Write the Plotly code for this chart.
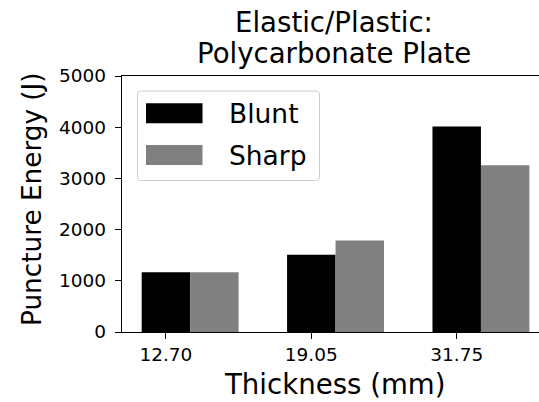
import plotly.graph_objects as go

# Data
thickness_labels = ["12.70", "19.05", "31.75"]
blunt_energy = [1165, 1510, 4015]
sharp_energy = [1165, 1785, 3255]
series_names = ["Blunt", "Sharp"]
series_colors = ["#000000", "#808080"]
y_ticks = [0, 1000, 2000, 3000, 4000, 5000]

W, H = 539, 402
L, R, T, B = 122, 0, 76, 70
PW, PH = W - L - R, H - T - B
FONT = "DejaVu Sans"
BIG = 27.6
LEG = 26.5
SMALL = 18.5


def px(xp):
    return (xp - L) / PW


def py(yp):
    return (H - B - yp) / PH


bw = 1 / 3
fig = go.Figure()
for name, vals, col, off in [
    (series_names[0], blunt_energy, series_colors[0], -bw / 2),
    (series_names[1], sharp_energy, series_colors[1], bw / 2),
]:
    fig.add_trace(go.Bar(x=thickness_labels, y=vals, name=name, width=bw, offset=off,
                         marker=dict(color=col, line=dict(width=0)), showlegend=False))

# Custom legend (matplotlib style)
lx0, lx1, ly0, ly1 = 137.5, 319.5, 91, 180.5
r = 3
path = (f"M {px(lx0 + r)} {py(ly0)} L {px(lx1 - r)} {py(ly0)} Q {px(lx1)} {py(ly0)} {px(lx1)} {py(ly0 + r)} "
        f"L {px(lx1)} {py(ly1 - r)} Q {px(lx1)} {py(ly1)} {px(lx1 - r)} {py(ly1)} "
        f"L {px(lx0 + r)} {py(ly1)} Q {px(lx0)} {py(ly1)} {px(lx0)} {py(ly1 - r)} "
        f"L {px(lx0)} {py(ly0 + r)} Q {px(lx0)} {py(ly0)} {px(lx0 + r)} {py(ly0)} Z")
shapes = [dict(type="path", xref="paper", yref="paper", path=path,
               fillcolor="rgba(255,255,255,0.8)", line=dict(color="#cccccc", width=1), layer="above")]
annotations = []
for i, (name, col) in enumerate(zip(series_names, series_colors)):
    yc = 113.3 + i * 41.7
    shapes.append(dict(type="rect", xref="paper", yref="paper",
                       x0=px(146), x1=px(202.5), y0=py(yc - 10), y1=py(yc + 10),
                       fillcolor=col, line=dict(width=0), layer="above"))
    annotations.append(dict(x=px(227), y=py(yc), xref="paper", yref="paper", text=name,
                            showarrow=False, xanchor="left", yanchor="middle",
                            font=dict(family=FONT, size=LEG, color="black")))

# Title (two centered lines)
annotations.append(dict(x=px(334), y=py(22.5), xref="paper", yref="paper", text="Elastic/Plastic:",
                        showarrow=False, xanchor="center", yanchor="middle",
                        font=dict(family=FONT, size=BIG, color="black")))
annotations.append(dict(x=px(334), y=py(53), xref="paper", yref="paper", text="Polycarbonate Plate",
                        showarrow=False, xanchor="center", yanchor="middle",
                        font=dict(family=FONT, size=BIG, color="black")))
# Axis titles
annotations.append(dict(x=px(334), y=py(384), xref="paper", yref="paper", text="Thickness (mm)",
                        showarrow=False, xanchor="center", yanchor="middle",
                        font=dict(family=FONT, size=BIG, color="black")))
annotations.append(dict(x=px(32), y=py(199), xref="paper", yref="paper", text="Puncture Energy (J)",
                        showarrow=False, xanchor="center", yanchor="middle", textangle=-90,
                        font=dict(family=FONT, size=26.3, color="black")))

fig.update_layout(
    width=W, height=H, margin=dict(l=L, r=R, t=T, b=B),
    plot_bgcolor="white", paper_bgcolor="white", barmode="overlay",
    shapes=shapes, annotations=annotations,
    xaxis=dict(type="category", range=[-0.302, 2.566], showgrid=False, zeroline=False,
               showline=True, linecolor="black", linewidth=1.3, mirror=True,
               ticks="outside", ticklen=6, tickwidth=1.3, tickcolor="black",
               tickfont=dict(family=FONT, size=SMALL, color="black")),
    yaxis=dict(range=[0, 5000], tickvals=y_ticks, showgrid=False, zeroline=False,
               showline=True, linecolor="black", linewidth=1.3, mirror=False,
               ticks="outside", ticklen=6, tickwidth=1.3, tickcolor="black",
               ticklabelstandoff=5,
               tickfont=dict(family=FONT, size=SMALL, color="black")),
)

fig.write_html("out.html")
